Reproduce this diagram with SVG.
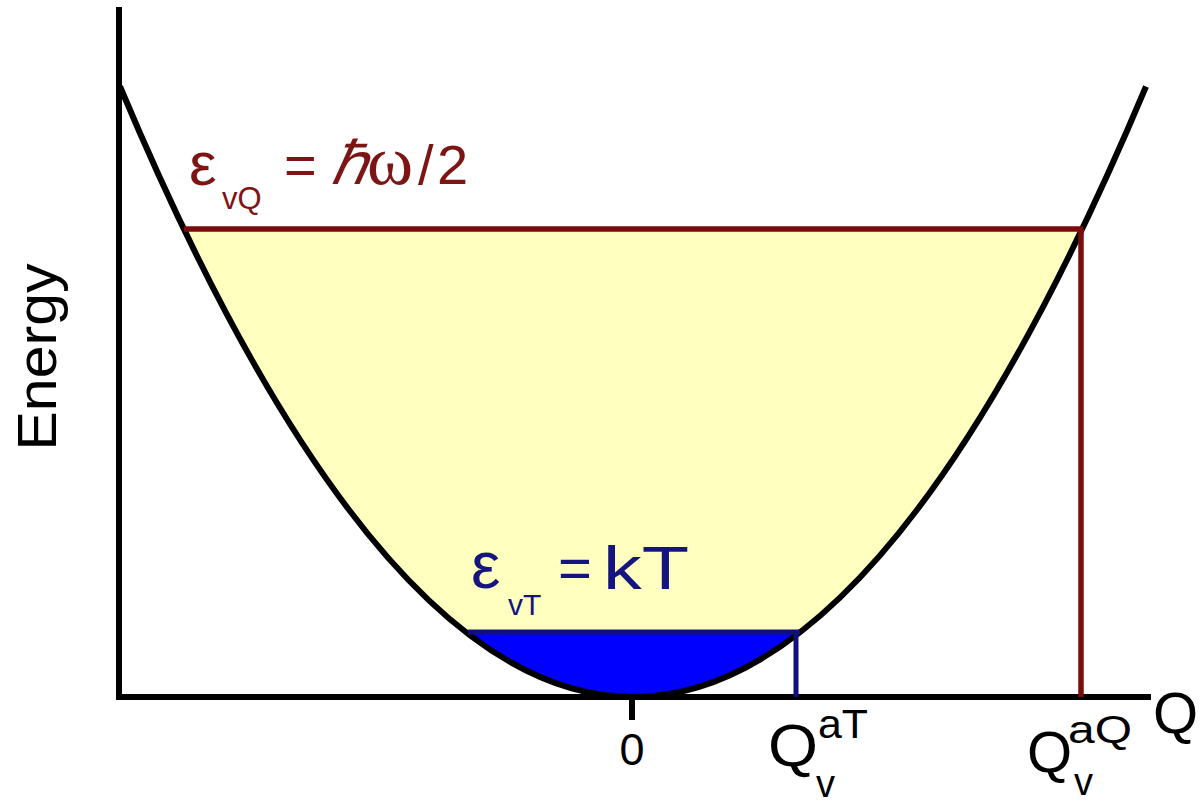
<svg xmlns="http://www.w3.org/2000/svg" width="1203" height="803" viewBox="0 0 1203 803">
<style>
.t{font-family:"Liberation Sans",Arial,sans-serif}
.br{fill:#7d1515}
.nv{fill:#15157f}
.k{fill:#000}
.ax{stroke:#000;stroke-width:6;fill:none}
.brl{stroke:#7a0c0c;stroke-width:5.5;fill:none}
.nvl{stroke:#10107a;stroke-width:5;fill:none}
</style>
<rect width="1203" height="803" fill="#fff"/>
<g id="fills">
<path d="M184,229 Q633,1165 1082,229 Z" fill="#ffffc0"/>
<path d="M465.6,632 Q633,762 800.4,632 Z" fill="#0000ff"/>
</g>
<g id="connectors">
<line class="ax" x1="119" y1="7" x2="119" y2="700"/>
<line class="ax" x1="116" y1="697" x2="1151" y2="697"/>
<line class="ax" x1="632" y1="697" x2="632" y2="720"/>
<path class="ax" d="M120,86.5 Q633,1307.5 1146,86.5"/>
<line class="brl" x1="184" y1="229" x2="1083" y2="229"/>
<line class="brl" x1="1081" y1="229" x2="1081" y2="697"/>
<line class="nvl" x1="468" y1="632" x2="800" y2="632"/>
<line class="nvl" x1="796" y1="632" x2="796" y2="697"/>
</g>
<g id="label-energy">
<text class="t k" font-size="56" text-anchor="middle" textLength="187" lengthAdjust="spacingAndGlyphs" transform="translate(56,357) rotate(-90)">Energy</text>
</g>
<g id="label-evQ">
<text class="t br" font-size="62" x="189" y="185">ε</text>
<text class="t br" font-size="31" x="222" y="209">vQ</text>
<text class="t br" font-size="56" x="284" y="184">=</text>
<text class="br" font-family="Liberation Serif,serif" font-style="italic" font-size="60" x="331" y="184">ℏ</text>
<text class="br" font-family="Liberation Serif,serif" font-size="70" x="367" y="184">ω</text>
<text class="t br" font-size="56" x="418" y="184">/</text>
<text class="t br" font-size="56" x="437" y="184">2</text>
</g>
<g id="label-evT">
<text class="t nv" font-size="66" x="471" y="588">ε</text>
<text class="t nv" font-size="30" x="508" y="615">vT</text>
<text class="t nv" font-size="58" x="558" y="588">=</text>
<text class="t nv" font-size="62" x="603" y="589" textLength="86" lengthAdjust="spacingAndGlyphs">kT</text>
</g>
<g id="label-zero">
<text class="t k" font-size="45" x="632" y="765" text-anchor="middle">0</text>
</g>
<g id="label-QvaT">
<text class="t k" font-size="60" x="768" y="766" textLength="50" lengthAdjust="spacingAndGlyphs">Q</text>
<text class="t k" font-size="40" x="818" y="738" textLength="50" lengthAdjust="spacingAndGlyphs">aT</text>
<text class="t k" font-size="38" x="816" y="797">v</text>
</g>
<g id="label-QvaQ">
<text class="t k" font-size="58" x="1027" y="772">Q</text>
<text class="t k" font-size="38" x="1068" y="743" textLength="64" lengthAdjust="spacingAndGlyphs">aQ</text>
<text class="t k" font-size="38" x="1074" y="795">v</text>
</g>
<g id="label-Q">
<text class="t k" font-size="58" x="1153" y="733">Q</text>
</g>
</svg>
